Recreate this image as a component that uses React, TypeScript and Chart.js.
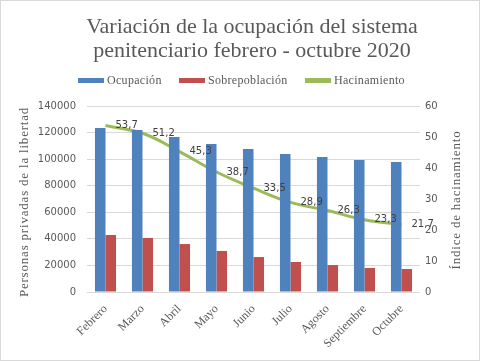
import React, { useEffect, useRef } from "react";
import { Chart, registerables } from "chart.js";

Chart.register(...registerables);

const categories = ["Febrero", "Marzo", "Abril", "Mayo", "Junio", "Julio", "Agosto", "Septiembre", "Octubre"];
const ocupacion = [123500, 121900, 116700, 111400, 107600, 103900, 101600, 99400, 97900];
const sobrepoblacion = [42900, 40700, 36100, 30900, 26300, 22600, 20300, 18100, 17300];
const hacinamiento = [53.7, 51.2, 45.3, 38.7, 33.5, 28.9, 26.3, 23.3, 21.7];
const titleLines = ["Variación de la ocupación del sistema", "penitenciario febrero - octubre 2020"];
const seriesNames = ["Ocupación", "Sobrepoblación", "Hacinamiento"];
const axisTitles = ["Personas privadas de la libertad", "Índice de hacinamiento"];

const BLUE = "#4F81BD";
const RED = "#C0504D";
const GREEN = "#9BBB59";
const GREY = "#595959";
const SERIF = "'Liberation Serif', serif";
const SANS = "'DejaVu Sans', sans-serif";

export default function App() {
  const ref = useRef<HTMLCanvasElement | null>(null);

  useEffect(() => {
    document.body.style.margin = "0";
    const canvas = ref.current!;
    const deco = {
      id: "deco",
      beforeDraw(chart: any) {
        const ctx = chart.ctx;
        ctx.save();
        ctx.fillStyle = "#ffffff";
        ctx.fillRect(0, 0, chart.width, chart.height);
        ctx.restore();
      },
      afterDatasetsDraw(chart: any) {
        const ctx = chart.ctx;
        const meta = chart.getDatasetMeta(2);
        ctx.save();
        ctx.font = `10px ${SANS}`;
        ctx.fillStyle = "#404040";
        ctx.textAlign = "left";
        ctx.textBaseline = "middle";
        meta.data.forEach((pt: any, i: number) => {
          ctx.fillText(String(hacinamiento[i]).replace(".", ","), pt.x + 10, pt.y);
        });
        ctx.restore();
      },
      afterDraw(chart: any) {
        const ctx = chart.ctx;
        ctx.save();
        // title
        ctx.fillStyle = GREY;
        ctx.font = `22px ${SERIF}`;
        ctx.textAlign = "center";
        ctx.textBaseline = "middle";
        ctx.fillText(titleLines[0], 252, 27);
        ctx.fillText(titleLines[1], 252, 51);
        // legend
        const colors = [BLUE, RED, GREEN];
        const xs = [78, 179, 305];
        ctx.font = `12px ${SERIF}`;
        (ctx as any).letterSpacing = "0.3px";
        ctx.textAlign = "left";
        seriesNames.forEach((n, i) => {
          ctx.fillStyle = colors[i];
          ctx.fillRect(xs[i], 78, 26, 5);
          ctx.fillStyle = GREY;
          ctx.fillText(n, xs[i] + 29, 80.5);
        });
        // axis titles
        ctx.font = `13px ${SERIF}`;
        (ctx as any).letterSpacing = "0.8px";
        ctx.textAlign = "center";
        ctx.save();
        ctx.translate(25, 202);
        ctx.rotate(-Math.PI / 2);
        ctx.fillText(axisTitles[0], 0, 0);
        ctx.restore();
        ctx.save();
        ctx.translate(457, 200);
        ctx.rotate(-Math.PI / 2);
        ctx.fillText(axisTitles[1], 0, 0);
        ctx.restore();
        (ctx as any).letterSpacing = "0px";
        // border
        ctx.strokeStyle = "#d9d9d9";
        ctx.lineWidth = 1;
        ctx.strokeRect(0.5, 0.5, chart.width - 1, chart.height - 1);
        ctx.restore();
      },
    };

    const chart = new Chart(canvas, {
      type: "bar",
      data: {
        labels: categories,
        datasets: [
          { type: "bar", label: seriesNames[0], data: ocupacion, backgroundColor: BLUE, yAxisID: "y", categoryPercentage: 0.57, barPercentage: 1 },
          { type: "bar", label: seriesNames[1], data: sobrepoblacion, backgroundColor: RED, yAxisID: "y", categoryPercentage: 0.57, barPercentage: 1 },
          { type: "line", label: seriesNames[2], data: hacinamiento, borderColor: GREEN, backgroundColor: GREEN, borderWidth: 3, pointRadius: 0, tension: 0.4, yAxisID: "y1" } as any,
        ],
      },
      options: {
        responsive: false,
        animation: false,
        events: [],
        layout: { padding: { top: 106, left: 0, right: 0, bottom: 0 } },
        plugins: { legend: { display: false }, title: { display: false }, tooltip: { enabled: false } },
        scales: {
          x: {
            grid: { display: false },
            border: { display: false },
            ticks: { color: GREY, font: { family: SERIF, size: 12 }, maxRotation: 45, minRotation: 45, padding: 2 },
            afterFit: (s: any) => { s.height = 69; },
          },
          y: {
            position: "left",
            min: 0,
            max: 140000,
            ticks: { stepSize: 20000, color: GREY, font: { family: SANS, size: 10 }, padding: 11, callback: (v: any) => String(v) },
            grid: { color: "#d9d9d9", drawTicks: false },
            border: { display: false },
            afterFit: (s: any) => { s.width = 87; },
          },
          y1: {
            position: "right",
            min: 0,
            max: 60,
            ticks: { stepSize: 10, color: GREY, font: { family: SANS, size: 10 }, padding: 5, callback: (v: any) => String(v) },
            grid: { drawOnChartArea: false, drawTicks: false },
            border: { display: false },
            afterFit: (s: any) => { s.width = 60; },
          },
        },
      },
      plugins: [deco],
    });
    return () => chart.destroy();
  }, []);

  return <canvas ref={ref} width={480} height={361} style={{ display: "block" }} />;
}
